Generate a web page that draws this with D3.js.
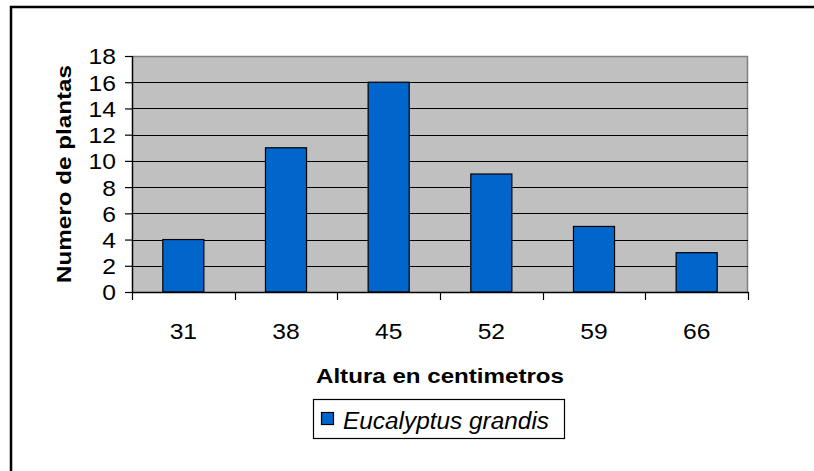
<!DOCTYPE html>
<html>
<head>
<meta charset="utf-8">
<script src="https://cdn.jsdelivr.net/npm/d3@7"></script>
<style>
  html, body { margin: 0; padding: 0; background: #fff; overflow: hidden; }
  svg { display: block; }
  text { font-family: Arial, "Liberation Sans", sans-serif; fill: #000; }
</style>
</head>
<body>
<div id="chart"></div>
<script>
// Data
let categories = ["31", "38", "45", "52", "59", "66"];
let values = [4, 11, 16, 9, 5, 3];
let yTicks = [0, 2, 4, 6, 8, 10, 12, 14, 16, 18];
let seriesName = "Eucalyptus grandis";

let W = 814, H = 471;
let plot = { left: 132, top: 56, right: 748, bottom: 292 };

let svg = d3.select("#chart").append("svg")
  .attr("width", W).attr("height", H);

// outer frame (only top and left edges are inside the picture)
svg.append("path")
  .attr("d", "M11,480V7H820")
  .attr("fill", "none").attr("stroke", "#000").attr("stroke-width", 2.5);

let x = d3.scaleBand().domain(categories).range([plot.left, plot.right]).padding(0);
let y = d3.scaleLinear().domain([0, 18]).range([plot.bottom, plot.top]);

// plot background
svg.append("rect")
  .attr("x", plot.left).attr("y", plot.top)
  .attr("width", plot.right - plot.left).attr("height", plot.bottom - plot.top)
  .attr("fill", "#c0c0c0");
svg.append("path")
  .attr("d", `M${plot.left},${plot.top + 0.5}H${plot.right - 0.5}V${plot.bottom}`)
  .attr("fill", "none").attr("stroke", "#808080").attr("stroke-width", 1.5);

// gridlines
svg.append("g").selectAll("line")
  .data(yTicks.filter(d => d > 0 && d < 18))
  .join("line")
  .attr("x1", plot.left).attr("x2", plot.right)
  .attr("y1", d => Math.round(y(d)) + 0.5).attr("y2", d => Math.round(y(d)) + 0.5)
  .attr("stroke", "#000").attr("stroke-width", 1);

// bars
let bw = x.bandwidth() * 0.4;
svg.append("g").selectAll("rect")
  .data(values)
  .join("rect")
  .attr("x", (d, i) => x(categories[i]) + (x.bandwidth() - bw) / 2)
  .attr("y", d => y(d))
  .attr("width", bw)
  .attr("height", d => y(0) - y(d))
  .attr("fill", "#0066cc")
  .attr("stroke", "#000").attr("stroke-width", 1.2);

// y axis
let yAxis = d3.axisLeft(y).tickValues(yTicks).tickSize(7).tickPadding(0);
let yAxisEl = svg.append("g").attr("transform", `translate(${plot.left},0)`).call(yAxis);
yAxisEl.select(".domain").attr("stroke", "#000").attr("stroke-width", 1.5).attr("d", `M0.5,${plot.top}V${plot.bottom}`);
yAxisEl.selectAll(".tick line").attr("stroke", "#000").attr("stroke-width", 1.2);
yAxisEl.selectAll(".tick text")
  .attr("x", 0).attr("dy", "0.36em")
  .attr("transform", "translate(-16,0) scale(1.12,1)")
  .style("font-size", "22px").style("font-family", "Arial, 'Liberation Sans', sans-serif");

// x axis: ticks at category boundaries
let xAxisEl = svg.append("g").attr("transform", `translate(0,${plot.bottom})`);
xAxisEl.append("line")
  .attr("x1", plot.left).attr("x2", plot.right)
  .attr("y1", 0.5).attr("y2", 0.5)
  .attr("stroke", "#000").attr("stroke-width", 1.5);
let bounds = categories.map(c => x(c)).concat([x(categories[categories.length - 1]) + x.bandwidth()]);
xAxisEl.selectAll("line.tk")
  .data(bounds)
  .join("line")
  .attr("class", "tk")
  .attr("x1", d => Math.round(d) + 0.5).attr("x2", d => Math.round(d) + 0.5)
  .attr("y1", 0).attr("y2", 8)
  .attr("stroke", "#000").attr("stroke-width", 1.2);
xAxisEl.selectAll("text")
  .data(categories)
  .join("text")
  .attr("transform", d => `translate(${x(d) + x.bandwidth() / 2},47) scale(1.12,1)`)
  .attr("text-anchor", "middle")
  .style("font-size", "22px")
  .text(d => d);

// axis titles
svg.append("text")
  .attr("x", (plot.left + plot.right) / 2).attr("y", 383)
  .attr("text-anchor", "middle")
  .attr("textLength", 248).attr("lengthAdjust", "spacingAndGlyphs")
  .style("font-size", "20px").style("font-weight", "bold")
  .text("Altura en centimetros");

svg.append("text")
  .attr("transform", `translate(71,174) rotate(-90)`)
  .attr("text-anchor", "middle")
  .attr("textLength", 218).attr("lengthAdjust", "spacingAndGlyphs")
  .style("font-size", "21px").style("font-weight", "bold")
  .text("Numero de plantas");

// legend
let legend = svg.append("g").attr("transform", "translate(313,399)");
legend.append("rect")
  .attr("x", 0.5).attr("y", 0.5).attr("width", 251).attr("height", 39)
  .attr("fill", "#fff").attr("stroke", "#000").attr("stroke-width", 1.2);
legend.append("rect")
  .attr("x", 8.5).attr("y", 13.5).attr("width", 12).attr("height", 12)
  .attr("fill", "#0066cc").attr("stroke", "#000").attr("stroke-width", 1.2);
legend.append("text")
  .attr("x", 30).attr("y", 30)
  .attr("textLength", 206).attr("lengthAdjust", "spacingAndGlyphs")
  .style("font-size", "23px").style("font-style", "italic")
  .text(seriesName);
</script>
</body>
</html>
